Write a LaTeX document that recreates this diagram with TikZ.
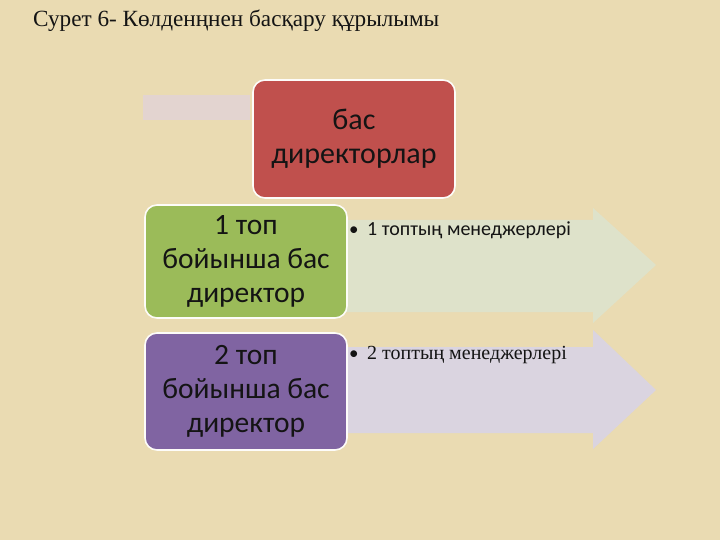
\documentclass[tikz,border=0pt]{standalone}
\usepackage{fontspec}
\setmainfont{Liberation Serif}
\newfontfamily\calib{Carlito}
\definecolor{parch}{RGB}{234,219,178}
\definecolor{redbox}{RGB}{192,80,77}
\definecolor{greenbox}{RGB}{155,187,89}
\definecolor{purplebox}{RGB}{128,100,162}
\definecolor{arrowA}{RGB}{222,226,202}
\definecolor{arrowB}{RGB}{218,212,224}
\definecolor{pinkbar}{RGB}{227,212,208}
\definecolor{ink}{RGB}{20,20,20}
\tikzset{
  mainbox/.style={draw=white!92!parch, line width=1.6pt, rounded corners=12pt,
    minimum width=202pt, align=center, inner sep=0pt, text=ink,
    font=\calib\fontsize{29.5}{34}\selectfont},
  bullettext/.style={anchor=base west, inner sep=0pt, text=ink},
}
\begin{document}
\begin{tikzpicture}[x=1pt,y=-1pt]
\useasboundingbox[fill=parch] (0,0) rectangle (720,540);
% title
\node[bullettext, font=\fontsize{23.2}{26}\selectfont] (title) at (33,27) {Сурет 6- Көлденңнен басқару құрылымы};
% pale bar
\fill[pinkbar] (143,95) rectangle (250,120);
% arrows
\fill[arrowA] (340,220) -- (593,220) -- (593,208) -- (656,265) -- (593,323) -- (593,312) -- (340,312) -- cycle;
\fill[arrowB] (340,347) -- (593,347) -- (593,330) -- (656,390) -- (593,449) -- (593,433) -- (340,433) -- cycle;
% boxes
\node[mainbox, fill=redbox, minimum height=118pt, font=\calib\fontsize{30}{34}\selectfont] (top) at (354,139) {бас\\директорлар};
\node[mainbox, fill=greenbox, minimum height=113pt] (g1) at (246,261.5) {1 топ\\бойынша бас\\директор};
\node[mainbox, fill=purplebox, minimum height=117pt] (g2) at (246,391.5) {2 топ\\бойынша бас\\директор};
% bullet texts
\node[bullettext, font=\calib\fontsize{19}{22}\selectfont] (b1) at (349,236) {•};
\node[bullettext, font=\calib\fontsize{20}{22}\selectfont] (t1) at (367,236) {1 топтың менеджерлері};
\node[bullettext, font=\calib\fontsize{19}{22}\selectfont] (b2) at (349,359) {•};
\node[bullettext, font=\fontsize{20}{22}\selectfont] (t2) at (367,359) {2 топтың менеджерлері};
\end{tikzpicture}
\end{document}
